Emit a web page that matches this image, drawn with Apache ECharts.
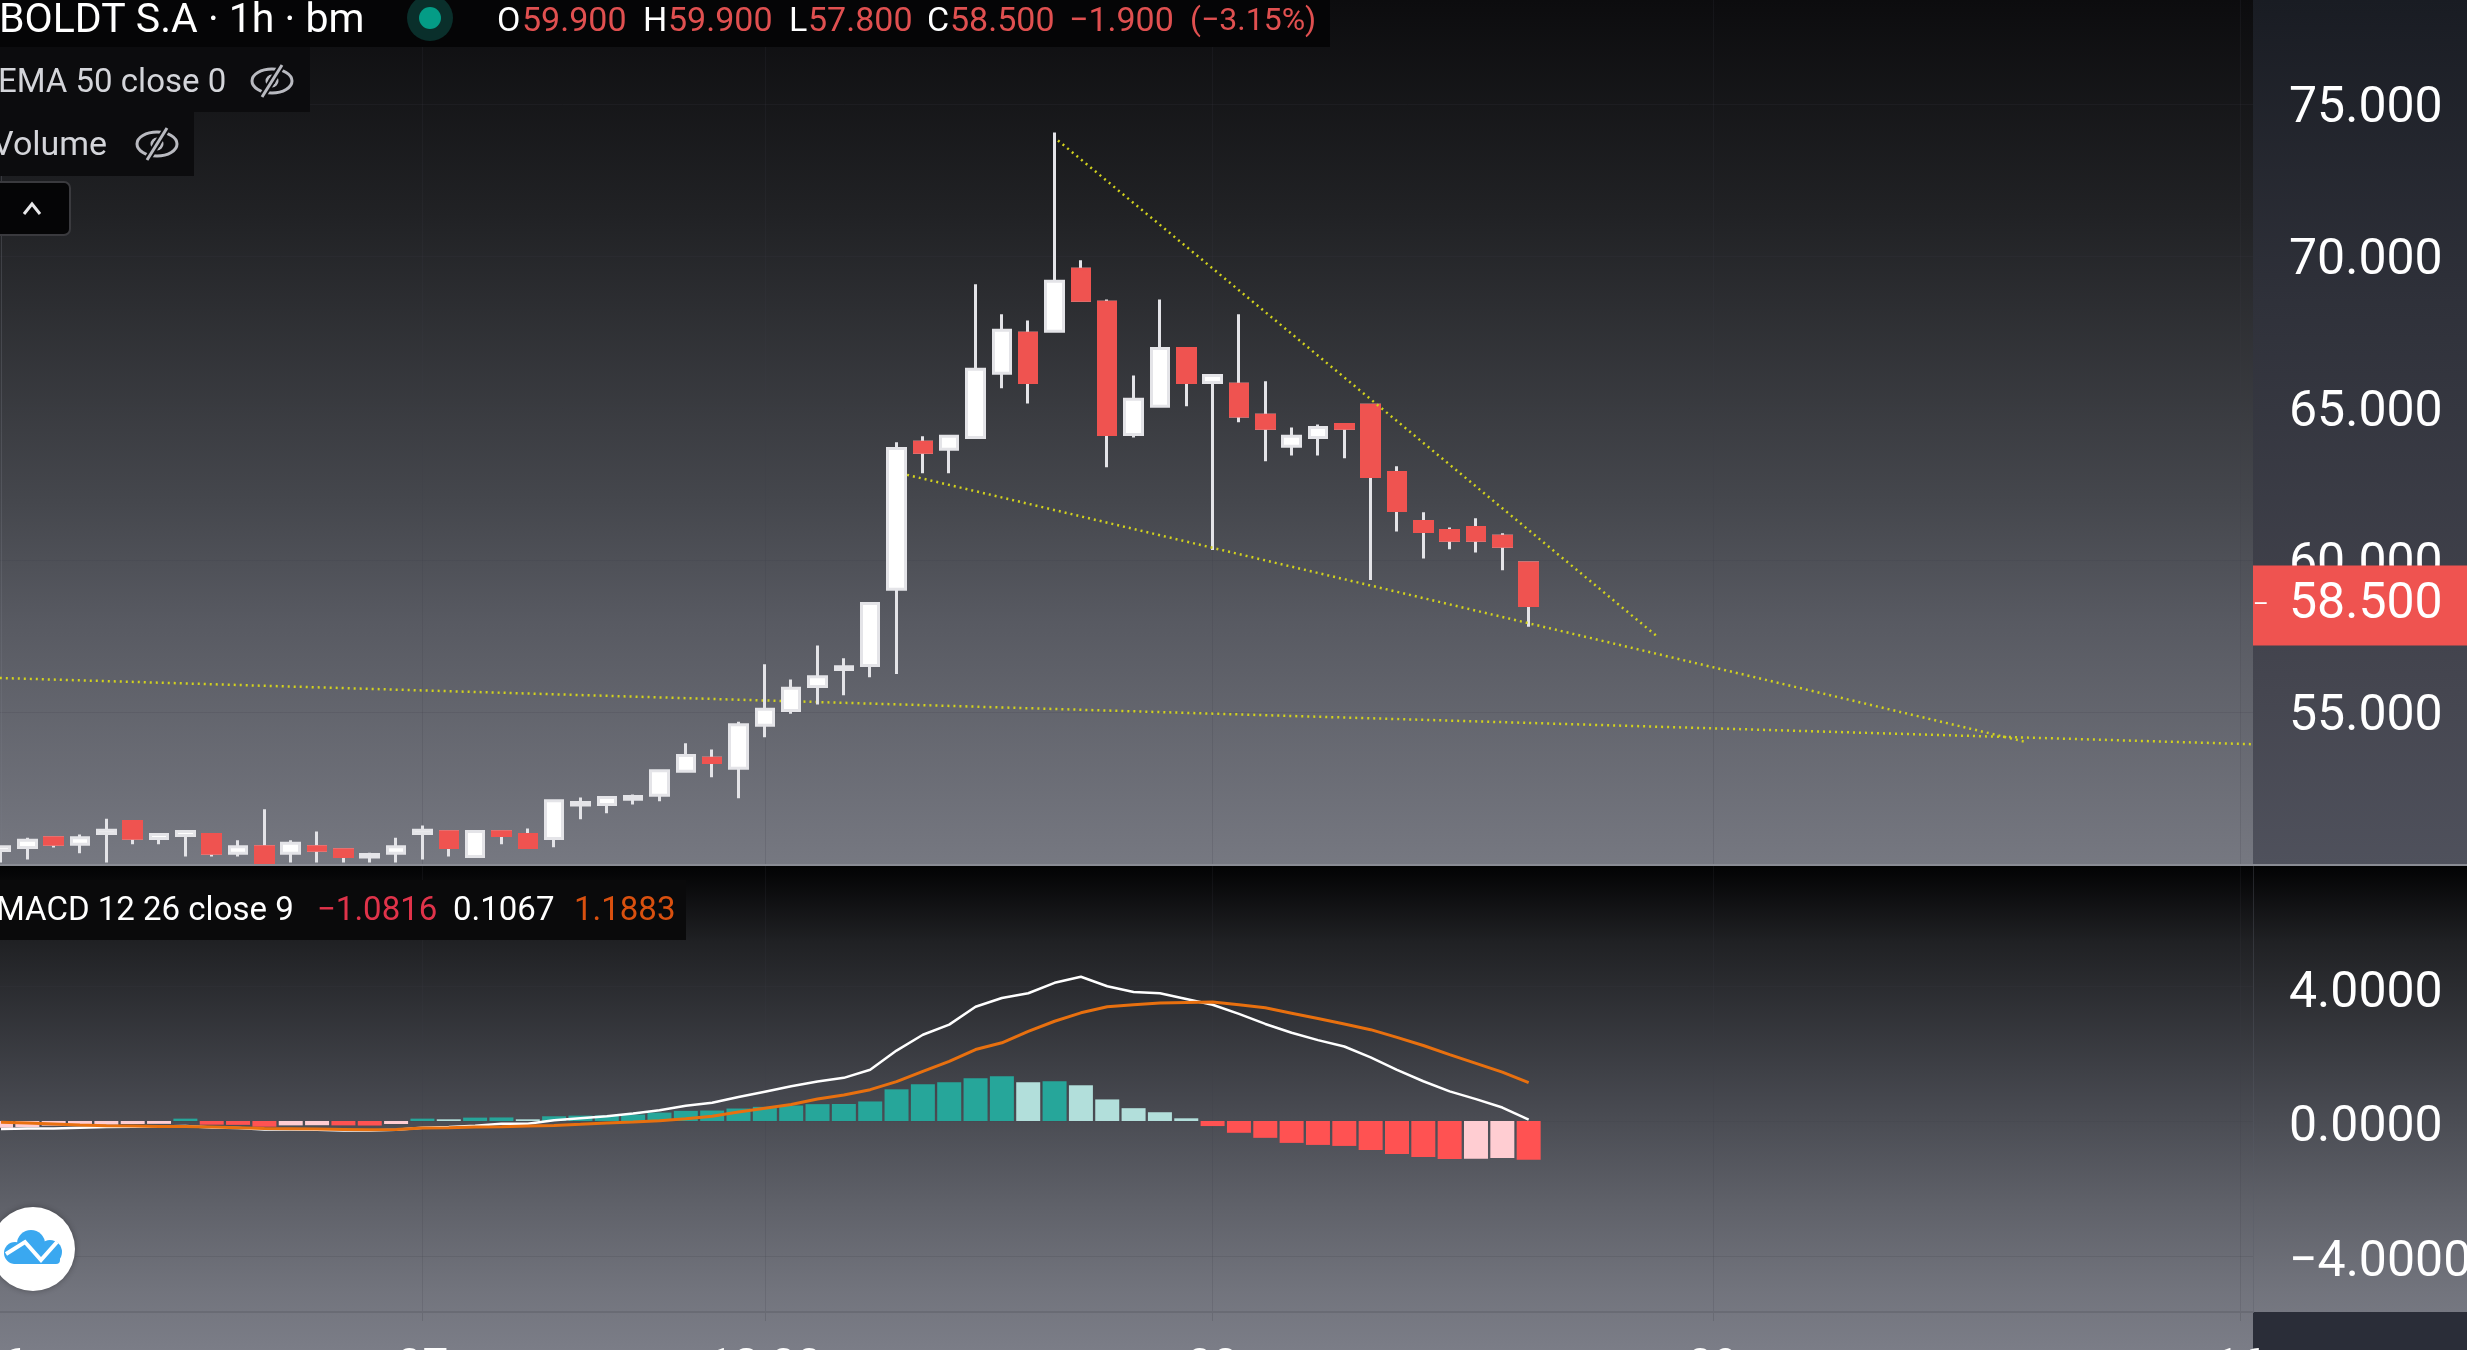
<!DOCTYPE html>
<html>
<head>
<meta charset="utf-8">
<title>BOLDT S.A 1h</title>
<style>
  html, body { margin: 0; padding: 0; background: #000; overflow: hidden; }
  #chart { width: 2467px; height: 1350px; }
</style>
<script src="https://cdn.jsdelivr.net/npm/echarts@6/dist/echarts.min.js"></script>
</head>
<body>
<div id="chart"></div>
<script>
// candles
const candleOpen = [50.44,50.54,50.86,50.65,51.00,51.40,50.84,50.94,50.97,50.35,50.57,50.35,50.57,50.47,50.23,50.35,51.00,51.06,50.25,51.06,50.97,50.84,51.94,51.96,52.13,52.26,53.05,53.48,53.15,54.56,55.05,55.84,56.40,56.53,59.04,63.87,63.64,64.03,66.14,67.46,67.52,69.56,68.48,64.13,65.06,66.96,65.84,65.78,64.76,63.74,64.03,64.46,65.09,62.88,61.27,60.97,61.07,60.78,59.90];
const candleClose = [50.57,50.78,50.65,50.86,51.11,50.85,50.97,51.07,50.35,50.57,50.05,50.68,50.45,50.25,50.31,50.57,51.11,50.54,51.07,50.94,50.54,52.08,52.02,52.19,52.22,53.07,53.57,53.34,54.58,55.09,55.78,56.16,56.49,58.57,63.67,63.54,64.07,66.27,67.56,65.84,69.17,68.54,64.13,65.29,66.96,65.84,66.07,64.74,64.33,64.07,64.36,64.33,62.75,61.63,60.94,60.65,60.65,60.45,58.50];
const candleLow = [50.05,50.15,50.54,50.35,50.05,50.65,50.65,50.25,50.25,50.25,50.05,50.05,50.05,50.05,50.05,50.05,50.15,50.25,50.25,50.65,50.54,50.55,51.47,51.67,51.96,52.06,53.05,52.85,52.16,54.17,54.94,55.25,55.55,56.14,56.25,62.85,62.85,64.03,65.65,65.15,67.52,68.54,63.05,64.03,65.06,65.06,60.33,64.53,63.25,63.44,63.44,63.35,59.34,60.94,60.05,60.35,60.25,59.66,57.80];
const candleHigh = [50.57,50.86,50.86,50.97,51.49,51.40,50.97,51.07,50.97,50.78,51.80,50.78,51.07,50.47,50.37,50.86,51.27,51.06,51.07,51.06,51.17,52.08,52.19,52.19,52.29,53.07,53.97,53.77,54.68,56.57,56.07,57.19,56.77,58.57,63.87,64.07,64.07,69.07,68.08,67.88,74.06,69.86,68.57,66.07,68.57,66.96,66.07,68.08,65.88,64.36,64.46,64.46,65.09,63.08,61.57,61.07,61.37,60.88,59.90];
const lastPrice = 58.5;

// macd pane
const histValues = [-0.2,-0.18,-0.14,-0.135,-0.11,-0.09,-0.085,0.07,-0.11,-0.115,-0.17,-0.13,-0.125,-0.13,-0.135,-0.09,0.07,0.05,0.1,0.105,0.05,0.14,0.16,0.165,0.19,0.25,0.3,0.31,0.37,0.42,0.46,0.5,0.505,0.58,0.94,1.09,1.15,1.27,1.33,1.15,1.18,1.06,0.64,0.38,0.26,0.08,-0.15,-0.35,-0.5,-0.65,-0.71,-0.74,-0.86,-0.98,-1.07,-1.13,-1.12,-1.10,-1.15];
const macdValues = [-0.24,-0.22,-0.22,-0.2,-0.18,-0.17,-0.16,-0.15,-0.19,-0.21,-0.25,-0.25,-0.26,-0.28,-0.28,-0.26,-0.2,-0.18,-0.14,-0.08,-0.08,0.02,0.08,0.14,0.22,0.32,0.45,0.54,0.71,0.87,1.03,1.17,1.28,1.52,2.09,2.56,2.86,3.39,3.65,3.79,4.10,4.28,4.00,3.83,3.79,3.62,3.45,3.18,2.88,2.62,2.40,2.21,1.89,1.52,1.18,0.88,0.65,0.40,0.04];
const signalValues = [-0.04,-0.06,-0.09,-0.12,-0.14,-0.15,-0.16,-0.16,-0.18,-0.2,-0.22,-0.23,-0.24,-0.25,-0.26,-0.25,-0.21,-0.2,-0.18,-0.17,-0.15,-0.13,-0.1,-0.06,-0.03,0.01,0.07,0.14,0.27,0.38,0.49,0.65,0.77,0.93,1.17,1.47,1.77,2.12,2.32,2.66,2.96,3.21,3.39,3.45,3.50,3.52,3.53,3.45,3.36,3.2,3.04,2.88,2.71,2.48,2.24,1.97,1.71,1.45,1.14];

// trend lines as [bar index, price]
const trendUpper = [[40.13, 73.8], [62.9, 57.47]];
const trendLower = [[34.4, 62.8], [76.9, 54.01]];
const trendBase = [[-0.5, 56.13], [85.5, 53.94]];

// axes
const priceTicks = [55, 60, 65, 70, 75];
const macdTicks = [-4, 0, 4];
const barCount = 86;
const timeTickIndex = [0, 16, 29, 46, 65, 85];
const timeTickText = ['16', '07', '12:00', '08', '09', '16'];
const categories = [];
for (let i = 0; i < barCount; i++) {
  const at = timeTickIndex.indexOf(i);
  categories.push(at >= 0 ? timeTickText[at] : '');
}

const fontName = 'Roboto, sans-serif';
const red = '#ef5350';
const wick = '#e4e4e8';
const gridLine = 'rgba(60,62,72,0.18)';
const trendColor = '#d2d21e';

// white wicks on red bodies: red bodies are painted again on top
const candleAll = candleOpen.map((o, i) => [o, candleClose[i], candleLow[i], candleHigh[i]]);
const candleRed = candleOpen.map((o, i) => {
  const c = candleClose[i];
  return c < o ? [o, c, c, o] : ['-', '-', '-', '-'];
});

function histColor(i) {
  const v = histValues[i];
  const prev = i > 0 ? histValues[i - 1] : v - 1;
  if (v >= 0) return v > prev ? '#26a69a' : '#b2dfdb';
  return v < prev ? '#ff5252' : '#ffcdd2';
}

function vGradient(stops) {
  return new echarts.graphic.LinearGradient(0, 0, 0, 1, stops.map(s => ({ offset: s[0], color: s[1] })));
}

function box(x, y, w, h, fill, z, extra) {
  return Object.assign({
    type: 'rect', silent: true, z: z,
    shape: { x: x, y: y, width: w, height: h },
    style: { fill: fill }
  }, extra || {});
}

function label(x, y, text, color, size) {
  return {
    type: 'text', silent: true, z: 60, x: x, y: y,
    style: { text: text, fill: color, font: size + 'px ' + fontName, textAlign: 'left', textVerticalAlign: 'middle' }
  };
}

function eyeIcon(cx, cy) {
  const c = '#b9bac0';
  const dash = { stroke: c, lineWidth: 3, fill: 'none' };
  return [
    { type: 'ellipse', silent: true, z: 60, shape: { cx: cx, cy: cy, rx: 20, ry: 12 }, style: dash },
    { type: 'circle', silent: true, z: 60, shape: { cx: cx, cy: cy, r: 5 }, style: dash },
    { type: 'line', silent: true, z: 61, shape: { x1: cx - 10, y1: cy + 16, x2: cx + 10, y2: cy - 16 }, style: { stroke: '#0c0c0e', lineWidth: 7 } },
    { type: 'line', silent: true, z: 62, shape: { x1: cx - 10, y1: cy + 16, x2: cx + 10, y2: cy - 16 }, style: { stroke: c, lineWidth: 3 } }
  ];
}

const graphics = [
  // backgrounds
  box(0, 0, 2253, 865, vGradient([[0, '#0c0c0e'], [0.25, '#212225'], [0.58, '#45474d'], [0.72, '#585a62'], [1, '#767881']]), -10),
  box(2253, 0, 214, 865, vGradient([[0, '#191c23'], [0.35, '#2f313a'], [0.8, '#454650'], [1, '#4f515c']]), -10),
  box(0, 865, 2467, 485, vGradient([[0, '#020203'], [0.16, '#202124'], [0.49, '#46484f'], [0.7, '#5f6169'], [0.88, '#72747d'], [1, '#7b7d87']]), -10),
  box(2253, 1312, 214, 38, '#2a2d38', -9),
  box(0, 864, 2467, 2, '#8a8c94', 50),

  // legend boxes
  box(0, 0, 1330, 47, '#050506', 55),
  box(0, 47, 310, 65, '#0c0c0e', 55),
  box(0, 112, 194, 64, '#0c0c0e', 55),
  box(0, 880, 686, 60, '#0a0a0b', 55),
  box(-6, 182, 76, 53, '#050506', 55, { shape: { x: -6, y: 182, width: 76, height: 53, r: 6 }, style: { fill: '#050506', stroke: '#3a3a3e', lineWidth: 2 } }),
  { type: 'polyline', silent: true, z: 60, shape: { points: [[24, 214], [32, 204], [40, 214]] }, style: { stroke: '#e8e8ea', lineWidth: 3, fill: 'none' } },

  // header
  label(-1, 22, 'BOLDT S.A · 1h · bm', '#ffffff', 41),
  { type: 'circle', silent: true, z: 56, shape: { cx: 430, cy: 18, r: 23 }, style: { fill: '#0a2f2b' } },
  { type: 'circle', silent: true, z: 57, shape: { cx: 430, cy: 18, r: 11 }, style: { fill: '#049c86' } },
  label(497, 22, 'O', '#ffffff', 34), label(522, 22, '59.900', '#e05050', 34),
  label(643, 22, 'H', '#ffffff', 34), label(668, 22, '59.900', '#e05050', 34),
  label(789, 22, 'L', '#ffffff', 34), label(808, 22, '57.800', '#e05050', 34),
  label(927, 22, 'C', '#ffffff', 34), label(950, 22, '58.500', '#e05050', 34),
  label(1069, 22, '−1.900', '#e05050', 34), label(1190, 22, '(−3.15%)', '#e05050', 32),
  label(-2, 84, 'EMA 50 close 0', '#d4d5da', 33),
  label(-8, 146, 'Volume', '#d4d5da', 34)
].concat(eyeIcon(272, 81), eyeIcon(157, 144), [
  // macd legend
  label(-4, 912, 'MACD 12 26 close 9', '#ffffff', 33),
  label(317, 912, '−1.0816', '#e0334a', 33),
  label(453, 912, '0.1067', '#ffffff', 33),
  label(574, 912, '1.1883', '#d9500f', 33),

  // logo
  { type: 'circle', silent: true, z: 60, shape: { cx: 33, cy: 1249, r: 42 }, style: { fill: '#ffffff', shadowBlur: 6, shadowColor: 'rgba(0,0,0,0.3)' } },
  { type: 'circle', silent: true, z: 61, shape: { cx: 15, cy: 1253, r: 11 }, style: { fill: '#3aa8f0' } },
  { type: 'circle', silent: true, z: 61, shape: { cx: 31, cy: 1244, r: 14 }, style: { fill: '#3aa8f0' } },
  { type: 'circle', silent: true, z: 61, shape: { cx: 50, cy: 1252, r: 12 }, style: { fill: '#3aa8f0' } },
  { type: 'rect', silent: true, z: 61, shape: { x: 12, y: 1250, width: 48, height: 14, r: 4 }, style: { fill: '#3aa8f0' } },
  { type: 'polyline', silent: true, z: 62, shape: { points: [[6, 1254], [25, 1242], [41, 1260], [57, 1242]] }, style: { stroke: '#ffffff', lineWidth: 4, fill: 'none' } }
]);

const showAtTick = i => timeTickIndex.indexOf(i) >= 0;
const showGridLine = i => i > 0 && timeTickIndex.indexOf(i) >= 0;

const option = {
  animation: false,
  backgroundColor: 'transparent',
  graphic: { elements: graphics },
  grid: [
    { left: -12.17, top: 0, width: 2265.17, height: 864, outerBoundsMode: 'none' },
    { left: -12.17, top: 866, width: 2265.17, height: 446, outerBoundsMode: 'none' }
  ],
  xAxis: [
    {
      type: 'category', gridIndex: 0, data: categories,
      axisLine: { show: false }, axisLabel: { show: false },
      axisTick: { show: false, alignWithLabel: true, interval: showAtTick },
      splitLine: { show: true, alignWithLabel: true, interval: showGridLine, lineStyle: { color: gridLine } }
    },
    {
      type: 'category', gridIndex: 1, data: categories,
      axisLine: { show: true, onZero: false, lineStyle: { color: '#696b74', width: 2 } },
      axisTick: { show: true, length: 9, alignWithLabel: true, interval: showGridLine, lineStyle: { color: '#696b74' } },
      axisLabel: { show: true, interval: showAtTick, margin: 34, color: '#ffffff', fontSize: 46, fontFamily: fontName },
      splitLine: { show: true, alignWithLabel: true, interval: showGridLine, lineStyle: { color: gridLine } }
    },
    // hidden index axis, trend lines do not sit on bar centres
    { type: 'value', gridIndex: 0, min: -0.5, max: 85.5, show: false }
  ],
  yAxis: [
    {
      type: 'value', gridIndex: 0, position: 'right', min: 50, max: 78.42, scale: true,
      axisLine: { show: true, lineStyle: { color: 'rgba(120,122,132,0.3)' } },
      axisTick: { show: false, customValues: priceTicks },
      axisLabel: {
        customValues: priceTicks, margin: 36,
        formatter: v => '{v|' + v.toFixed(3) + '}',
        rich: { v: { color: '#ffffff', fontSize: 50, fontFamily: fontName, padding: [12, 0, 0, 0] } }
      },
      splitLine: { show: true, lineStyle: { color: gridLine } }
    },
    {
      type: 'value', gridIndex: 1, position: 'right', min: -5.668, max: 7.567, scale: true,
      axisLine: { show: true, lineStyle: { color: 'rgba(90,92,102,0.35)' } },
      axisTick: { show: false, customValues: macdTicks },
      axisLabel: {
        customValues: macdTicks, margin: 36,
        formatter: v => '{v|' + v.toFixed(4).replace('-', '−') + '}',
        rich: { v: { color: '#ffffff', fontSize: 50, fontFamily: fontName, padding: [16, 0, 0, 0] } }
      },
      splitLine: { show: true, lineStyle: { color: gridLine } }
    }
  ],
  series: [
    {
      name: 'candles', type: 'candlestick', xAxisIndex: 0, yAxisIndex: 0, barWidth: 18, z: 4,
      data: candleAll,
      itemStyle: { color: '#ffffff', color0: red, borderColor: wick, borderColor0: wick, borderWidth: 3 },
      markLine: {
        silent: true, symbol: 'none', animation: false,
        lineStyle: { color: 'transparent', width: 0 },
        data: [{ yAxis: lastPrice }],
        label: {
          position: 'end', distance: 0, opacity: 1, backgroundColor: red, align: 'left', verticalAlign: 'middle',
          formatter: () => '{tick|–}{price|' + lastPrice.toFixed(3) + '}',
          rich: {
            tick: { width: 36, height: 80, align: 'left', fontSize: 24, color: '#ffffff', fontFamily: fontName },
            price: { width: 178, height: 80, align: 'left', fontSize: 50, color: '#ffffff', fontFamily: fontName }
          }
        }
      }
    },
    {
      name: 'red bodies', type: 'candlestick', xAxisIndex: 0, yAxisIndex: 0, barWidth: 18, z: 5,
      data: candleRed,
      itemStyle: { color: red, color0: red, borderColor: red, borderColor0: red, borderWidth: 3 }
    },
    { name: 'trend upper', type: 'line', xAxisIndex: 2, yAxisIndex: 0, z: 6, showSymbol: false, data: trendUpper, lineStyle: { color: trendColor, width: 2.5, type: [2, 4] } },
    { name: 'trend lower', type: 'line', xAxisIndex: 2, yAxisIndex: 0, z: 6, showSymbol: false, data: trendLower, lineStyle: { color: trendColor, width: 2.5, type: [2, 4] } },
    { name: 'trend base', type: 'line', xAxisIndex: 2, yAxisIndex: 0, z: 3, showSymbol: false, data: trendBase, lineStyle: { color: trendColor, width: 2.5, type: [2, 4] } },
    {
      name: 'histogram', type: 'bar', xAxisIndex: 1, yAxisIndex: 1, barWidth: 24, z: 3,
      data: histValues.map((v, i) => ({ value: v, itemStyle: { color: histColor(i) } }))
    },
    { name: 'macd', type: 'line', xAxisIndex: 1, yAxisIndex: 1, z: 5, showSymbol: false, data: macdValues, lineStyle: { color: '#ffffff', width: 2.5 } },
    { name: 'signal', type: 'line', xAxisIndex: 1, yAxisIndex: 1, z: 6, showSymbol: false, data: signalValues, lineStyle: { color: '#e8700f', width: 3 } }
  ]
};

const chart = echarts.init(document.getElementById('chart'));
chart.setOption(option);
</script>
</body>
</html>
